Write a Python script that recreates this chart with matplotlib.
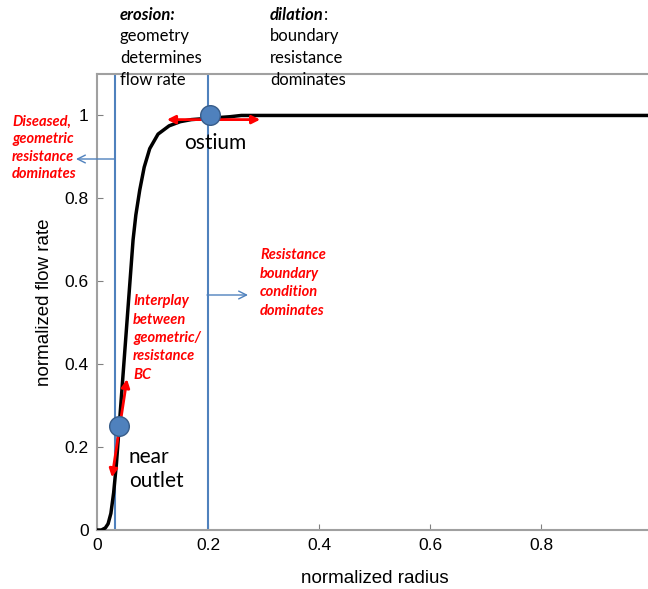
import matplotlib
matplotlib.use("Agg")
import matplotlib.pyplot as plt

# ---- data ----
radius = [0, 0.008, 0.015, 0.02, 0.025, 0.03, 0.035, 0.04, 0.045, 0.05, 0.055,
          0.06, 0.065, 0.07, 0.077, 0.085, 0.095, 0.11, 0.13, 0.15, 0.17, 0.2,
          0.22, 0.24, 0.26, 0.3, 0.5, 0.7, 0.99]
flow = [0, 0, 0.005, 0.015, 0.04, 0.09, 0.16, 0.25, 0.34, 0.43, 0.52,
        0.61, 0.70, 0.76, 0.82, 0.875, 0.92, 0.955, 0.975, 0.985, 0.99, 0.993,
        0.995, 0.997, 1.0, 1.0, 1.0, 1.0, 1.0]
vlines_x = [0.033, 0.2]
points_x = [0.04, 0.204]
points_y = [0.25, 1.0]
xticks = [0, 0.2, 0.4, 0.6, 0.8]
xtick_labels = ["0", "0.2", "0.4", "0.6", "0.8"]
yticks = [0, 0.2, 0.4, 0.6, 0.8, 1.0]
ytick_labels = ["0", "0.2", "0.4", "0.6", "0.8", "1"]

W, H = 648, 589
fig = plt.figure(figsize=(W / 100, H / 100), dpi=100)

def fx(x):
    return x / W

def fy(y):
    return 1 - y / H

ax_left, ax_right, ax_top, ax_bottom = 97, 652, 74, 530
ax = fig.add_axes([fx(ax_left), fy(ax_bottom), (ax_right - ax_left) / W, (ax_bottom - ax_top) / H])
ax.set_xlim(0, 1.0)
ax.set_ylim(0, 1.1)

BLUE = "#4F81BD"
for xv in vlines_x:
    ax.axvline(xv, color=BLUE, lw=1.5, zorder=2)

ax.plot(radius, flow, color="black", lw=2.5, zorder=3)

# red double arrows
ax.annotate("", xy=(0.126, 0.99), xytext=(0.294, 0.99),
            arrowprops=dict(arrowstyle="<|-|>", color="red", lw=2, mutation_scale=12,
                            shrinkA=0, shrinkB=0), zorder=4)
ax.annotate("", xy=(0.027, 0.127), xytext=(0.054, 0.364),
            arrowprops=dict(arrowstyle="<|-|>", color="red", lw=2, mutation_scale=12,
                            shrinkA=0, shrinkB=0), zorder=4)

ax.scatter(points_x, points_y, s=200, color=BLUE, edgecolors="#385D8A", linewidths=1, zorder=5)

ax.set_xticks(xticks)
ax.set_xticklabels(xtick_labels)
ax.set_yticks(yticks)
ax.set_yticklabels(ytick_labels)
ax.tick_params(direction="in", length=4, color="#808080", labelsize=12.5, pad=6,
               labelfontfamily="Liberation Sans")
for sp in ax.spines.values():
    sp.set_color("#a0a0a0")
    sp.set_linewidth(1.5)

ax.set_xlabel("normalized radius", fontsize=13.5, family="Liberation Sans", labelpad=12)
ax.set_ylabel("normalized flow rate", fontsize=13.5, family="Liberation Sans", labelpad=8)

# text annotations
CAL = "Lato"
fig.text(fx(120), fy(15), "erosion:", fontsize=12, family=CAL, weight="bold", style="italic", va="center")
fig.text(fx(120), fy(58), "geometry\ndetermines\nflow rate", fontsize=12, family=CAL,
         va="center", linespacing=1.45)
fig.text(fx(270), fy(15), "dilation", fontsize=12, family=CAL, weight="bold", style="italic", va="center")
fig.text(fx(324), fy(15), ":", fontsize=12, family=CAL, va="center")
fig.text(fx(270), fy(58), "boundary\nresistance\ndominates", fontsize=12, family=CAL,
         va="center", linespacing=1.45)

fig.text(fx(184), fy(143), "ostium", fontsize=15, family=CAL, va="center")
fig.text(fx(129), fy(469), "near\noutlet", fontsize=15, family=CAL, va="center", linespacing=1.3)

RED = "red"
fig.text(fx(12), fy(148), "Diseased,\ngeometric\nresistance\ndominates", fontsize=10.5, family=CAL,
         weight="bold", style="italic", color=RED, va="center", linespacing=1.3)
fig.text(fx(260), fy(283), "Resistance\nboundary\ncondition\ndominates", fontsize=10.5, family=CAL,
         weight="bold", style="italic", color=RED, va="center", linespacing=1.4)
fig.text(fx(133), fy(338), "Interplay\nbetween\ngeometric/\nresistance\nBC", fontsize=10.5, family=CAL,
         weight="bold", style="italic", color=RED, va="center", linespacing=1.4)

# thin blue arrows
fig.add_artist(matplotlib.patches.FancyArrowPatch((fx(115), fy(159)), (fx(76), fy(159)),
               transform=fig.transFigure, arrowstyle="->", color=BLUE, lw=1, mutation_scale=14,
               shrinkA=0, shrinkB=0))
fig.add_artist(matplotlib.patches.FancyArrowPatch((fx(207), fy(295)), (fx(248), fy(295)),
               transform=fig.transFigure, arrowstyle="->", color=BLUE, lw=1, mutation_scale=14,
               shrinkA=0, shrinkB=0))

fig.savefig("out.png", dpi=100)
